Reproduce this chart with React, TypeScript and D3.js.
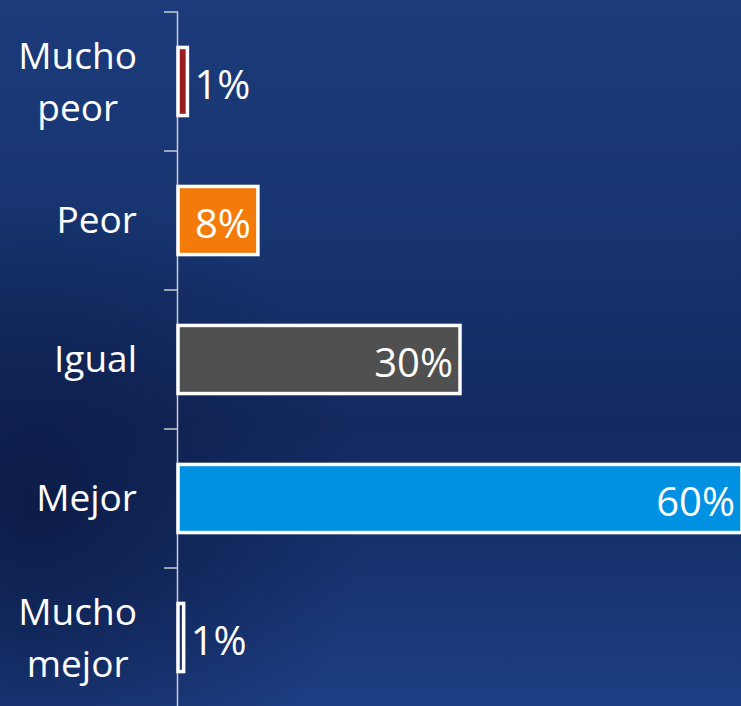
import React, { useEffect, useRef } from "react";
import * as d3 from "d3";

const categories = ["Mucho peor", "Peor", "Igual", "Mejor", "Mucho mejor"];
const categoryLines = [["Mucho", "peor"], ["Peor"], ["Igual"], ["Mejor"], ["Mucho", "mejor"]];
const values = [1.0, 8.5, 30, 60, 0.6];
const valueLabels = ["1%", "8%", "30%", "60%", "1%"];
const barColors = ["#9b1c1c", "#f47b0a", "#505050", "#0091e2", "none"];

const W = 741;
const H = 706;
const FONT = "'Open Sans', 'Noto Sans', sans-serif";

export default function App() {
  const ref = useRef<SVGSVGElement>(null);

  useEffect(() => {
    const svg = d3.select(ref.current);
    svg.selectAll("*").remove();

    const defs = svg.append("defs");
    const lg = defs.append("linearGradient").attr("id", "bg").attr("x1", 0).attr("y1", 0).attr("x2", 0).attr("y2", 1);
    [["0", "#1c3b7b"], ["0.35", "#17346f"], ["0.6", "#132a60"], ["0.8", "#17336f"], ["1", "#1d3e84"]].forEach(([o, c]) =>
      lg.append("stop").attr("offset", o).attr("stop-color", c)
    );
    const rg = defs.append("radialGradient").attr("id", "dark").attr("cx", 0.05).attr("cy", 0.72).attr("r", 0.45);
    rg.append("stop").attr("offset", 0).attr("stop-color", "#0a1840").attr("stop-opacity", 0.8);
    rg.append("stop").attr("offset", 1).attr("stop-color", "#0a1840").attr("stop-opacity", 0);

    svg.append("rect").attr("width", W).attr("height", H).attr("fill", "url(#bg)");
    svg.append("rect").attr("width", W).attr("height", H).attr("fill", "url(#dark)");

    const y = d3.scaleBand<string>().domain(categories).range([12, 707]).paddingInner(0.51).paddingOuter(0.255);
    const x = d3.scaleLinear().domain([0, 60]).range([178, 742]);
    const step = y.step();
    const x0 = x(0);

    // axis line + ticks
    svg.append("line").attr("x1", x0 - 0.5).attr("x2", x0 - 0.5).attr("y1", 12).attr("y2", H)
      .attr("stroke", "#c9ccd4").attr("stroke-width", 1.5);
    categories.forEach((c, i) => {
      const ty = 12 + i * step;
      svg.append("line").attr("x1", x0 - 14).attr("x2", x0).attr("y1", ty).attr("y2", ty)
        .attr("stroke", "#c9ccd4").attr("stroke-width", 1.5);
    });

    // bars
    categories.forEach((c, i) => {
      svg.append("rect")
        .attr("x", x0)
        .attr("y", y(c)!)
        .attr("width", x(values[i]) - x0)
        .attr("height", y.bandwidth())
        .attr("fill", barColors[i])
        .attr("stroke", "#ffffff")
        .attr("stroke-width", 3.5);
    });

    // value labels
    categories.forEach((c, i) => {
      const cy = y(c)! + y.bandwidth() / 2;
      const inside = values[i] >= 5;
      svg.append("text")
        .attr("x", inside ? x(values[i]) - 7 : x(values[i]) + 7)
        .attr("y", cy + 17.7)
        .attr("text-anchor", inside ? "end" : "start")
        .attr("fill", "#ffffff")
        .attr("font-family", FONT)
        .attr("font-size", 40)
        .text(valueLabels[i]);
    });

    // category labels
    categories.forEach((c, i) => {
      const cy = y(c)! + y.bandwidth() / 2;
      const lines = categoryLines[i];
      const g = svg.append("g");
      if (lines.length === 1) {
        g.append("text")
          .attr("x", 137).attr("y", cy + 12)
          .attr("text-anchor", "end")
          .attr("fill", "#ffffff").attr("font-family", FONT).attr("font-size", 37)
          .text(lines[0]);
      } else {
        const texts = lines.map((l, j) =>
          g.append("text")
            .attr("y", cy - 13 + j * 52)
            .attr("text-anchor", "middle")
            .attr("fill", "#ffffff").attr("font-family", FONT).attr("font-size", 37)
            .text(l)
        );
        const maxW = d3.max(texts, (t) => (t.node() as SVGTextElement).getComputedTextLength()) || 0;
        texts.forEach((t) => t.attr("x", 137 - maxW / 2));
      }
    });
  }, []);

  return (
    <svg ref={ref} width={W} height={H} style={{ position: "absolute", left: 0, top: 0, display: "block" }} />
  );
}
